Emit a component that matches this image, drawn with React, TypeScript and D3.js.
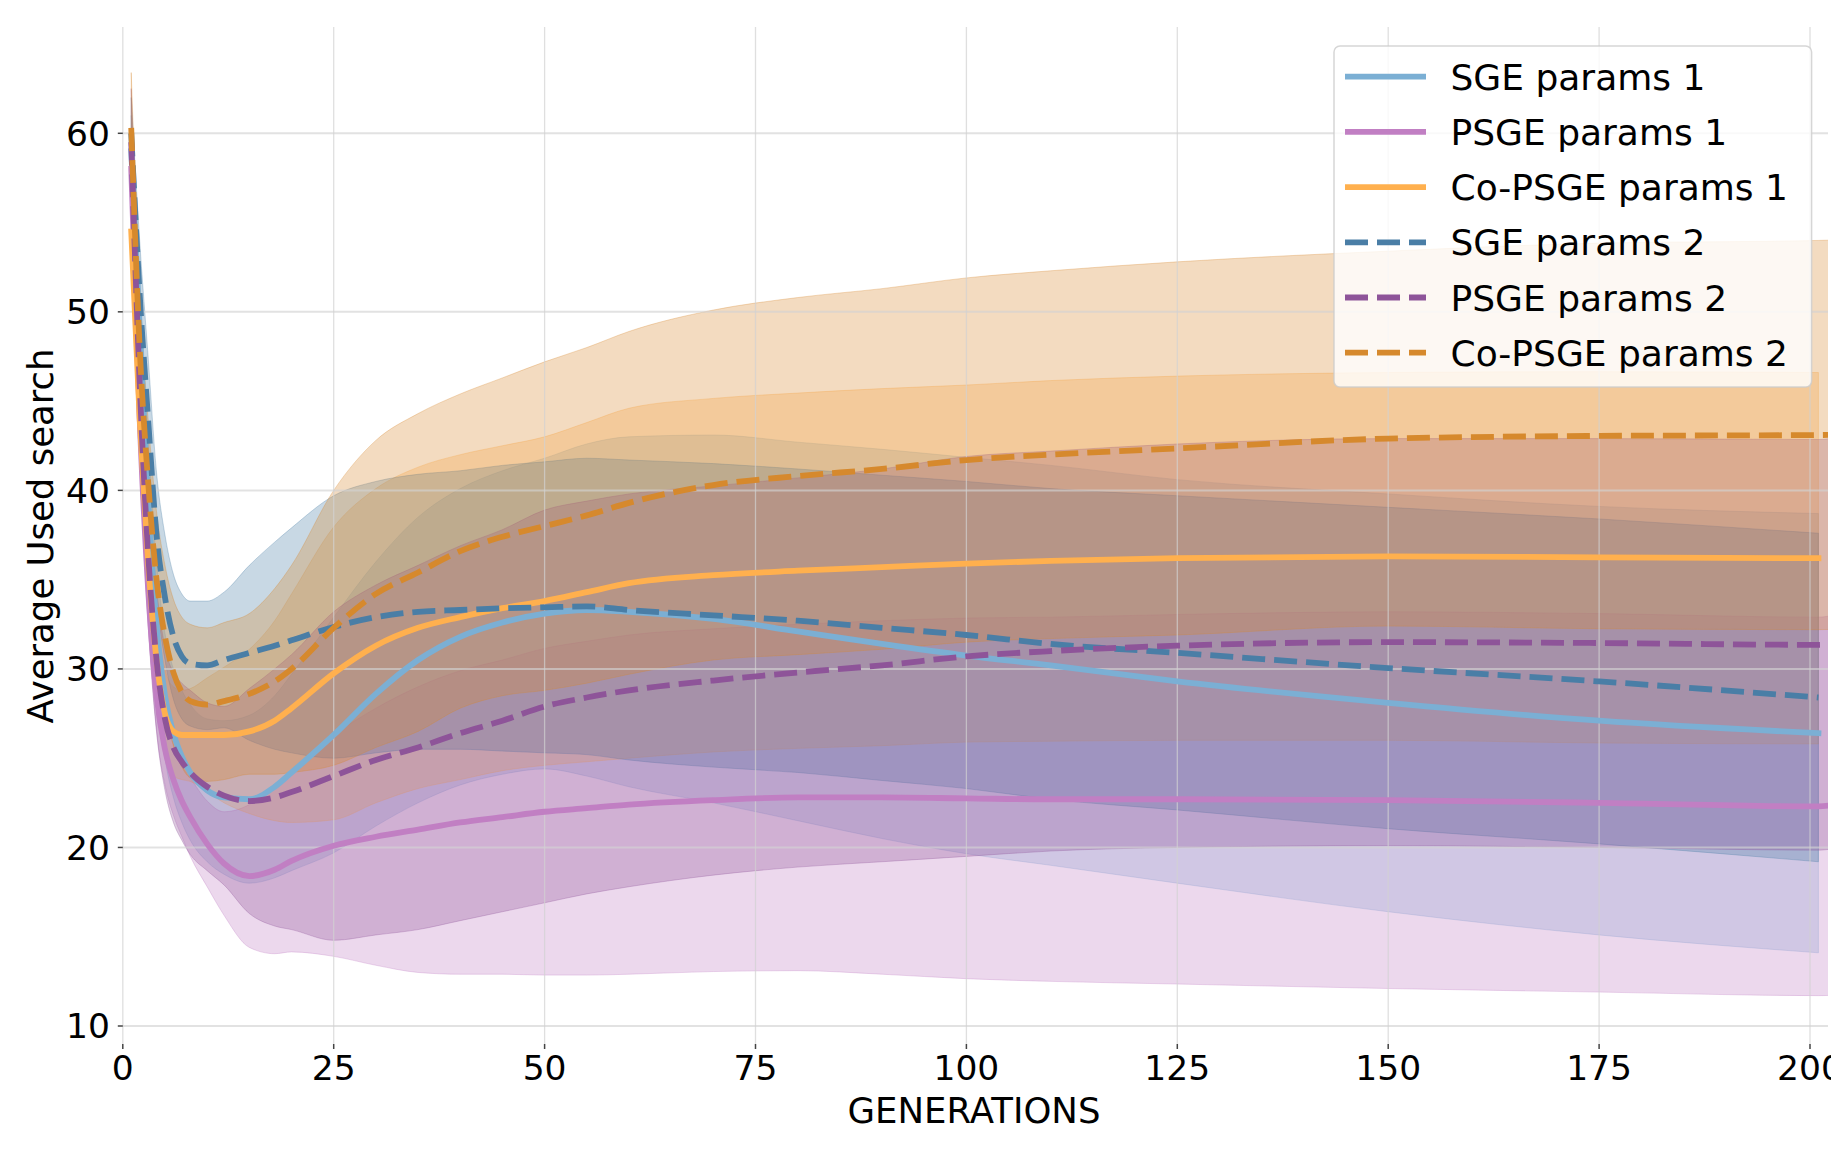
import * as d3 from 'd3';

// generations (x positions of the curves)
const GENS = [1, 2, 3, 4, 5, 6, 7, 8, 10, 12, 15, 18, 20, 25, 30, 35, 40, 45, 50, 55, 60, 70, 80, 90, 100, 110, 125, 150, 175, 201];
// some runs keep going past the right edge of the axes
const GENS_LONG = [...GENS, 205];

const SGE1_MEAN = [59, 49, 39.5, 32.5, 28.5, 26.4, 25.1, 24.2, 23.2, 22.8, 22.7, 23.4, 24.2, 26.3, 28.6, 30.5, 31.8, 32.6, 33.1, 33.3, 33.2, 32.8, 32.1, 31.4, 30.75, 30.2, 29.3, 28.1, 27.1, 26.4];
const SGE1_STD = [2, 3, 3.5, 3.5, 3.5, 3.6, 3.7, 3.8, 4.0, 4.3, 4.7, 5.1, 5.5, 6.6, 7.4, 8.0, 8.3, 8.5, 8.7, 9.3, 9.8, 10.3, 10.6, 10.9, 11.1, 11.2, 11.3, 11.7, 12.0, 12.3];

const PSGE1_MEAN = [58, 44, 34.5, 28.5, 25.5, 23.8, 22.6, 21.7, 20.2, 19.1, 18.4, 18.75, 19.25, 20.1, 20.6, 21.0, 21.4, 21.7, 22.0, 22.2, 22.4, 22.65, 22.8, 22.8, 22.75, 22.7, 22.7, 22.65, 22.5, 22.3, 22.6];
const PSGE1_STD = [1.5, 2, 2, 2, 2, 2, 2, 2.2, 2.4, 2.9, 4.0, 4.7, 5.1, 6.2, 7.2, 8.0, 8.5, 8.8, 9.15, 9.35, 9.5, 9.6, 9.7, 9.9, 10.1, 10.2, 10.35, 10.55, 10.6, 10.6, 10.8];

const COPSGE1_MEAN = [54.5, 44, 36, 30.5, 27.5, 26.5, 26.3, 26.3, 26.3, 26.3, 26.5, 27.1, 27.8, 29.75, 31.3, 32.3, 32.9, 33.4, 33.8, 34.3, 34.8, 35.25, 35.5, 35.7, 35.9, 36.05, 36.2, 36.3, 36.25, 36.2];
const COPSGE1_STD = [2, 2.5, 2.5, 2.5, 2.5, 2.5, 2.5, 2.6, 3.2, 3.8, 4.6, 5.6, 6.4, 8.2, 8.8, 9.0, 9.1, 9.1, 9.2, 9.5, 9.8, 9.9, 9.95, 10.0, 10.0, 10.1, 10.2, 10.3, 10.4, 10.4];

const SGE2_MEAN = [60, 51, 44, 37.5, 34, 31.8, 30.7, 30.3, 30.2, 30.5, 30.9, 31.3, 31.6, 32.35, 32.9, 33.2, 33.3, 33.4, 33.45, 33.5, 33.3, 33.0, 32.7, 32.3, 31.9, 31.4, 30.9, 30.05, 29.3, 28.4];
const SGE2_STD = [2, 3, 3.5, 3.5, 3.5, 3.5, 3.5, 3.5, 3.6, 3.8, 4.9, 5.8, 6.3, 7.35, 7.6, 7.7, 7.8, 8.0, 8.15, 8.3, 8.4, 8.5, 8.5, 8.55, 8.6, 8.7, 8.8, 9.0, 9.1, 9.2];

const PSGE2_MEAN = [59.5, 46, 36.5, 30.5, 27.2, 25.6, 24.8, 24.2, 23.4, 22.9, 22.6, 22.8, 23.1, 24.0, 24.9, 25.6, 26.4, 27.1, 27.9, 28.4, 28.8, 29.35, 29.8, 30.2, 30.7, 31.0, 31.3, 31.5, 31.45, 31.35, 31.7];
const PSGE2_STD = [3, 3.5, 3.8, 4, 4, 4.2, 4.4, 4.6, 4.7, 5.0, 6.3, 7.2, 7.7, 9.2, 9.8, 10.2, 10.5, 10.7, 11.0, 11.0, 11.0, 10.9, 10.9, 11.0, 11.2, 11.2, 11.3, 11.4, 11.45, 11.5, 11.5];

const COPSGE2_MEAN = [60.3, 48, 40.5, 35, 31.8, 29.8, 28.7, 28.2, 28.0, 28.2, 28.6, 29.3, 30.0, 32.3, 34.2, 35.4, 36.6, 37.4, 38.0, 38.6, 39.3, 40.3, 40.8, 41.2, 41.7, 42.0, 42.35, 42.9, 43.05, 43.1, 43.15];
const COPSGE2_STD = [3.1, 3, 3.5, 3.8, 4.0, 4.1, 4.2, 4.3, 4.3, 4.4, 4.5, 5.2, 5.8, 7.7, 8.6, 8.9, 8.8, 8.9, 9.2, 9.4, 9.6, 9.8, 10.0, 10.1, 10.2, 10.3, 10.45, 10.5, 10.8, 10.9, 10.9];

const X_TICKS = [0, 25, 50, 75, 100, 125, 150, 175, 200];
const Y_TICKS = [10, 20, 30, 40, 50, 60];

const SERIES = [
  { label: 'SGE params 1', color: '#7bafd4', dashed: false, gens: GENS, mean: SGE1_MEAN, std: SGE1_STD },
  { label: 'PSGE params 1', color: '#c17fc3', dashed: false, gens: GENS_LONG, mean: PSGE1_MEAN, std: PSGE1_STD },
  { label: 'Co-PSGE params 1', color: '#ffb04e', dashed: false, gens: GENS, mean: COPSGE1_MEAN, std: COPSGE1_STD },
  { label: 'SGE params 2', color: '#4a7ea6', dashed: true, gens: GENS, mean: SGE2_MEAN, std: SGE2_STD },
  { label: 'PSGE params 2', color: '#8e5499', dashed: true, gens: GENS_LONG, mean: PSGE2_MEAN, std: PSGE2_STD },
  { label: 'Co-PSGE params 2', color: '#d6892d', dashed: true, gens: GENS_LONG, mean: COPSGE2_MEAN, std: COPSGE2_STD },
];

const W = 1831;
const H = 1150;
const left = 122.8;
const top = 27;
const right = 1828;
const bottom = 1044;
const FONT = '"DejaVu Sans", Verdana, sans-serif';
const LW = 5.8;
const DASH = '23 9';

export default function App() {
  const x = d3.scaleLinear().domain([0, 200]).range([left, 1810]);
  const y = d3.scaleLinear().domain([10, 60]).range([1026, 133.3]);

  type Pt = { g: number; m: number; s: number };
  const pts = (sr: (typeof SERIES)[number]): Pt[] =>
    sr.gens.map((g, i) => ({ g, m: sr.mean[i], s: sr.std[i] }));

  const area = d3
    .area<Pt>()
    .x(d => x(d.g))
    .y0(d => y(d.m - d.s))
    .y1(d => y(d.m + d.s))
    .curve(d3.curveMonotoneX);
  const line = d3
    .line<Pt>()
    .x(d => x(d.g))
    .y(d => y(d.m))
    .curve(d3.curveMonotoneX);

  const legendRows = SERIES.map((s, i) => ({ ...s, cy: 76.7 + i * 55.2 }));

  return (
    <div style={{ position: 'absolute', left: 0, top: 0, width: W, height: H, background: '#fff' }}>
      <svg width={W} height={H} style={{ display: 'block' }}>
        <defs>
          <clipPath id="plot">
            <rect x={left} y={top} width={right - left} height={bottom - top} />
          </clipPath>
        </defs>

        <g clipPath="url(#plot)">
          {SERIES.map(s => (
            <path
              key={'band-' + s.label}
              d={area(pts(s)) || ''}
              fill={s.color}
              fillOpacity={0.3}
              stroke={s.color}
              strokeOpacity={0.3}
              strokeWidth={1}
            />
          ))}
        </g>

        {/* grid */}
        <g>
          {Y_TICKS.map(t => (
            <line key={'gy' + t} x1={left} x2={right} y1={y(t)} y2={y(t)} stroke="#d2d2d2" strokeOpacity={0.65} strokeWidth={2} />
          ))}
          {X_TICKS.map(t => (
            <line key={'gx' + t} x1={x(t)} x2={x(t)} y1={top} y2={bottom} stroke="#d2d2d2" strokeOpacity={0.7} strokeWidth={1.3} />
          ))}
        </g>

        <g clipPath="url(#plot)">
          {SERIES.map(s => (
            <path
              key={'line-' + s.label}
              d={line(pts(s)) || ''}
              fill="none"
              stroke={s.color}
              strokeWidth={LW}
              strokeDasharray={s.dashed ? DASH : undefined}
              strokeLinecap={s.dashed ? 'butt' : 'square'}
              strokeLinejoin="round"
            />
          ))}
        </g>

        {/* axes ticks and labels */}
        <g fontFamily={FONT} fill="#000">
          {Y_TICKS.map(t => (
            <g key={'ty' + t}>
              <line x1={left - 5} x2={left} y1={y(t)} y2={y(t)} stroke="#444" strokeWidth={1.5} />
              <text x={110} y={y(t)} dy="0.36em" fontSize={34.5} textAnchor="end">
                {t}
              </text>
            </g>
          ))}
          {X_TICKS.map(t => (
            <g key={'tx' + t}>
              <line x1={x(t)} x2={x(t)} y1={bottom} y2={bottom + 5} stroke="#444" strokeWidth={1.5} />
              <text x={x(t)} y={1080} fontSize={34.5} textAnchor="middle">
                {t}
              </text>
            </g>
          ))}
          <text x={974} y={1123} fontSize={35.5} textAnchor="middle">
            GENERATIONS
          </text>
          <text transform={`translate(53,536) rotate(-90)`} fontSize={35.5} textAnchor="middle">
            Average Used search
          </text>
        </g>

        {/* legend */}
        <g fontFamily={FONT}>
          <rect x={1334} y={46} width={477.6} height={341} rx={6} fill="#fff" fillOpacity={0.8} stroke="#cccccc" strokeOpacity={0.8} strokeWidth={1.5} />
          {legendRows.map(r => (
            <g key={'lg' + r.label}>
              <line
                x1={1345}
                x2={1426}
                y1={r.cy}
                y2={r.cy}
                stroke={r.color}
                strokeWidth={LW}
                strokeDasharray={r.dashed ? DASH : undefined}
              />
              <text x={1450.5} y={r.cy + 13} fontSize={36} fill="#000">
                {r.label}
              </text>
            </g>
          ))}
        </g>
      </svg>
    </div>
  );
}
